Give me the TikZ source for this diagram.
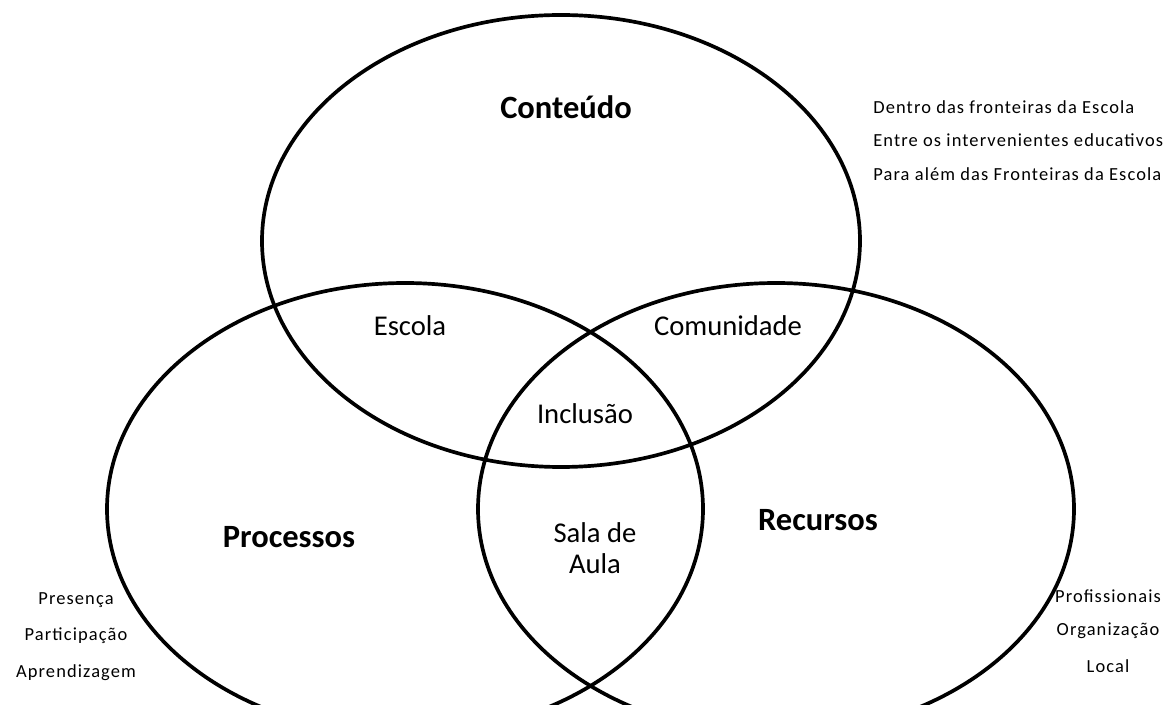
\documentclass[tikz,border=0pt]{standalone}
\usepackage{fontspec}
\setmainfont{Carlito}
\usetikzlibrary{positioning}

\begin{document}
\begin{tikzpicture}[x=0.02cm, y=-0.02cm, node distance=0.4cm,
		set/.style={line width=2.1pt},
		title/.style={font=\bfseries\fontsize{18.5}{22}\selectfont},
		region/.style={font=\fontsize{16.3}{18}\selectfont, align=center},
		note/.style={font=\fontsize{10.5}{12}\selectfont\addfontfeatures{LetterSpace=6}, inner sep=0pt}]
		\useasboundingbox (0,0) rectangle (1170,705);
		
		% Draw sets (three overlapping circles)
		\begin{scope}
			\clip (0,0) rectangle (1170,705);
			\draw[set] (561,241) ellipse [x radius=299, y radius=226];
			\draw[set] (405,509) ellipse [x radius=298, y radius=226];
			\draw[set] (776,509) ellipse [x radius=298, y radius=226];
		\end{scope}
		
		% Define set titles
		\node[title] (cont) at (566,107) {Conteúdo};
		\node[title] (proc) at (289,537) {Processos};
		\node[title] (recu) at (818,520) {Recursos};
		
		% Define intersections
		\node[region] (esc) at (410,326) {Escola};
		\node[region] (com) at (728,326) {Comunidade};
		\node[region] (inc) at (585,414) {Inclusão};
		\node[region] (sala) at (595,548) {Sala de\\Aula};
		
		% Define notes (Conteúdo)
		\node[note, anchor=west] (dentro) at (873,107) {Dentro das fronteiras da Escola};
		\node[note, below=of dentro.south west, anchor=north west] (entre) {Entre os intervenientes educativos};
		\node[note, below=of entre.south west, anchor=north west] (para) {Para além das Fronteiras da Escola};
		
		% Define notes (Processos)
		\node[note] (pres) at (76,600) {Presença};
		\node[note, below=of pres] (part) {Participação};
		\node[note, below=of part] (apre) {Aprendizagem};
		
		% Define notes (Recursos)
		\node[note] (prof) at (1108,596) {Profissionais};
		\node[note, below=of prof] (org) {Organização};
		\node[note, below=of org] (loc) {Local};
	\end{tikzpicture}
\end{document}
